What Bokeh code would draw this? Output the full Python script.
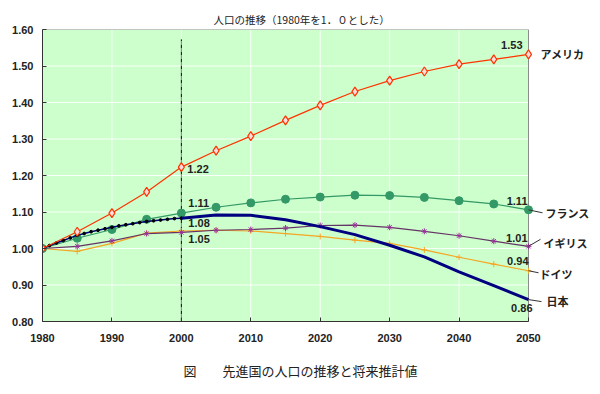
from bokeh.plotting import figure
from bokeh.models import Label, FixedTicker, PrintfTickFormatter, Title
from bokeh.embed import file_html
from bokeh.resources import INLINE

# ---- data ----
years5 = [1980, 1985, 1990, 1995, 2000, 2005, 2010, 2015, 2020, 2025, 2030, 2035, 2040, 2045, 2050]
usa = [1.000, 1.046, 1.097, 1.155, 1.223, 1.268, 1.308, 1.351, 1.392, 1.430, 1.460, 1.485, 1.505, 1.518, 1.532]
france = [1.000, 1.028, 1.052, 1.080, 1.097, 1.113, 1.125, 1.135, 1.141, 1.146, 1.145, 1.140, 1.131, 1.122, 1.106]
uk = [1.000, 1.006, 1.021, 1.041, 1.044, 1.050, 1.052, 1.056, 1.063, 1.064, 1.058, 1.047, 1.035, 1.020, 1.006]
germany = [1.000, 0.992, 1.014, 1.042, 1.048, 1.050, 1.048, 1.041, 1.033, 1.023, 1.014, 0.996, 0.976, 0.957, 0.939]
japan_hist_years = list(range(1980, 2001))
japan_hist = [1.000, 1.008, 1.015, 1.022, 1.029, 1.036, 1.041, 1.046, 1.050, 1.054, 1.058,
              1.062, 1.065, 1.068, 1.071, 1.074, 1.076, 1.078, 1.080, 1.082, 1.083]
japan_proj_years = [2000, 2005, 2010, 2015, 2020, 2025, 2030, 2035, 2040, 2045, 2050]
japan_proj = [1.083, 1.092, 1.091, 1.079, 1.060, 1.038, 1.009, 0.977, 0.936, 0.898, 0.860]

x_ticks = [1980, 1990, 2000, 2010, 2020, 2030, 2040, 2050]
y_ticks = [0.80, 0.90, 1.00, 1.10, 1.20, 1.30, 1.40, 1.50, 1.60]
ref_year = 2000
ref_top = 1.573

labels_2000 = ["1.22", "1.11", "1.08", "1.05"]
labels_2050 = ["1.53", "1.11", "1.01", "0.94", "0.86"]
country_names = ["アメリカ", "フランス", "イギリス", "ドイツ", "日本"]

title_text = "人口の推移（1980年を1．０とした）"
caption_text = "図　　先進国の人口の推移と将来推計値"

JP = "Noto Sans CJK JP"
NUM = "Liberation Sans"

FRAME_W = 486.0  # px spanned by 1980..2050
FRAME_H = 292.0  # px spanned by 0.8..1.6
px_per_year = FRAME_W / (x_ticks[-1] - x_ticks[0])
px_per_unit = FRAME_H / (y_ticks[-1] - y_ticks[0])
right_room = 72  # px to the right of 2050, for country names

p = figure(width=600, height=394,
           x_range=(x_ticks[0], x_ticks[-1] + right_room / px_per_year),
           y_range=(y_ticks[0], y_ticks[-1]),
           min_border_left=42, min_border_right=0, min_border_top=29, min_border_bottom=73,
           output_backend="svg", toolbar_location=None)
p.background_fill_color = "white"
p.border_fill_color = "white"
p.outline_line_color = None
p.grid.visible = False

# green plotting area
p.quad(left=[x_ticks[0]], right=[x_ticks[-1]], bottom=[y_ticks[0]], top=[y_ticks[-1]],
       fill_color="#CCFFCC", line_color=None)
# grid lines
p.segment(x0=x_ticks[1:-1], y0=[y_ticks[0]] * (len(x_ticks) - 2),
          x1=x_ticks[1:-1], y1=[y_ticks[-1]] * (len(x_ticks) - 2),
          line_color="white", line_alpha=0.85, line_width=1)
p.segment(x0=[x_ticks[0]] * (len(y_ticks) - 2), y0=y_ticks[1:-1],
          x1=[x_ticks[-1]] * (len(y_ticks) - 2), y1=y_ticks[1:-1],
          line_color="white", line_alpha=0.85, line_width=1)
# top and right borders of area
p.segment(x0=[x_ticks[0], x_ticks[-1]], y0=[y_ticks[-1], y_ticks[0]],
          x1=[x_ticks[-1], x_ticks[-1]], y1=[y_ticks[-1], y_ticks[-1]],
          line_color="#8C8C8C", line_width=1)

for ax in (p.xaxis[0], p.yaxis[0]):
    ax.axis_line_color = "#333333"
    ax.major_tick_line_color = "#333333"
    ax.major_tick_in = 4
    ax.major_tick_out = 0
    ax.minor_tick_line_color = None
    ax.major_label_text_font = NUM
    ax.major_label_text_font_style = "bold"
    ax.major_label_text_font_size = "11px"
    ax.major_label_text_color = "#222222"
p.xaxis.ticker = FixedTicker(ticks=x_ticks)
p.yaxis.ticker = FixedTicker(ticks=y_ticks)
p.xaxis.bounds = (x_ticks[0], x_ticks[-1])
p.yaxis.formatter = PrintfTickFormatter(format="%.2f")
p.xaxis.major_label_standoff = 12
p.yaxis.major_label_standoff = 9

# reference line at 2000
p.segment(x0=[ref_year], y0=[y_ticks[0]], x1=[ref_year], y1=[ref_top],
          line_color="black", line_width=1, line_dash="4 1 1 1")

# series
p.line(years5, germany, line_color="#F5A623", line_width=1.2)
p.scatter(years5, germany, marker="cross", size=6, line_color="#F5A623")

p.line(years5, uk, line_color="#663366", line_width=1.2)
p.scatter(years5, uk, marker="asterisk", size=6, line_color="#993399")

p.line(years5, france, line_color="#339966", line_width=1.2)
p.scatter(years5, france, marker="circle", size=8, fill_color="#339966", line_color="#339966")

p.line(japan_hist_years, japan_hist, line_color="#000080", line_width=1.5)
p.scatter(japan_hist_years, japan_hist, marker="circle", size=2.8, fill_color="black", line_color="black")
p.line(japan_proj_years, japan_proj, line_color="#000080", line_width=3)

p.line(years5, usa, line_color="#FF3300", line_width=1.2)
p.scatter(years5, usa, marker="diamond", size=9, fill_color="#FFDDDD", line_color="#FF3300", line_width=1.2)


def lab(x, y, text, xo=0, yo=0, align="left", font=NUM, size="11px", bold=True, color="#222222"):
    p.add_layout(Label(x=x, y=y, text=text, x_offset=xo, y_offset=yo, text_align=align,
                       text_baseline="middle", text_font=font, text_font_size=size,
                       text_font_style="bold" if bold else "normal", text_color=color))


i2000 = years5.index(ref_year)
pts_2000 = [usa[i2000], france[i2000], japan_proj[0], uk[i2000]]
offs_2000 = [(6, -2), (7, 10), (7, -5), (7, -7)]
for txt, yv, (xo, yo) in zip(labels_2000, pts_2000, offs_2000):
    lab(ref_year, yv, txt, xo=xo, yo=yo)

ends = [usa[-1], france[-1], uk[-1], germany[-1], japan_proj[-1]]
offs_2050 = [(-6, 9), (-1, 9), (-1, 8), (0, 10), (4, -8)]
for txt, yv, (xo, yo) in zip(labels_2050, ends, offs_2050):
    lab(x_ticks[-1], yv, txt, xo=xo, yo=yo, align="right")

# country names with leader lines
name_offs = [(12, 0), (17, -3), (15, 3), (11, -3), (18, -1)]
leads = [None, (14, -3), (12, 7), (10, -2), (13, -2)]
lx0, ly0, lx1, ly1 = [], [], [], []
for name, yv, (xo, yo), lead in zip(country_names, ends, name_offs, leads):
    lab(x_ticks[-1], yv, name, xo=xo, yo=yo, font=JP, size="11px")
    if lead is not None:
        lx0.append(x_ticks[-1]); ly0.append(yv)
        lx1.append(x_ticks[-1] + lead[0] / px_per_year); ly1.append(yv + lead[1] / px_per_unit)
p.segment(x0=lx0, y0=ly0, x1=lx1, y1=ly1, line_color="#333333", line_width=1)

# title and caption
p.title = Title(text=title_text, align="left", text_font=JP, text_font_size="10.5px",
                text_font_style="normal", text_color="#222222", offset=171, standoff=5)
p.add_layout(Title(text=caption_text, align="left", text_font=JP, text_font_size="13px",
                   text_font_style="normal", text_color="#222222", offset=141, standoff=28,
                   vertical_align="bottom"), "below")

open("out.html", "w").write(file_html(p, INLINE))
